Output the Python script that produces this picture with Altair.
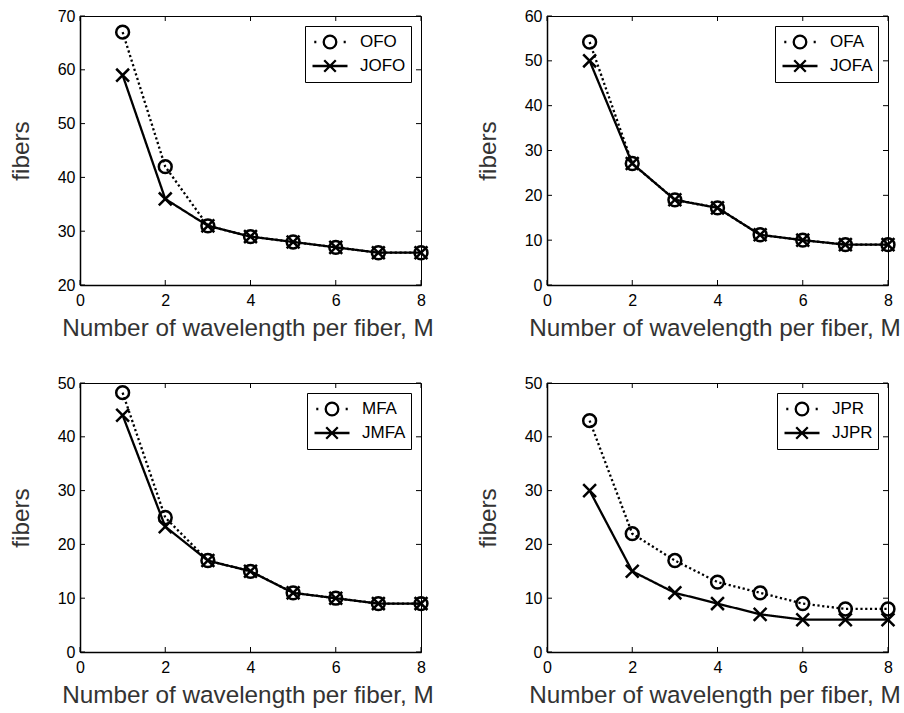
import altair as alt
import pandas as pd

# ---- data ----
M = [1, 2, 3, 4, 5, 6, 7, 8]
x_ticks = [0, 2, 4, 6, 8]

ofo = [67, 42, 31, 29, 28, 27, 26, 26]
jofo = [59, 36, 31, 29, 28, 27, 26, 26]
ofa = [54.2, 27.1, 19, 17.2, 11.2, 10, 9, 9]
jofa = [50, 27.1, 19, 17.2, 11.2, 10, 9, 9]
mfa = [48.2, 25, 17, 15, 11, 10, 9, 9]
jmfa = [44, 23.3, 17, 15, 11, 10, 9, 9]
jpr = [43, 22, 17, 13, 11, 9, 8, 8]
jjpr = [30, 15, 11, 9, 7, 6, 6, 6]

y_ticks_1 = [20, 30, 40, 50, 60, 70]
y_ticks_2 = [0, 10, 20, 30, 40, 50, 60]
y_ticks_3 = [0, 10, 20, 30, 40, 50]
y_ticks_4 = [0, 10, 20, 30, 40, 50]

X_TITLE = "Number of wavelength per fiber, M"
Y_TITLE = "fibers"

W, H = 341, 269
TICK = 5

X_PATH = "M-1,-1L1,1M-1,1L1,-1"
LEG_O = ("M-0.9,0h0.12M0.78,0h0.12"
         "M0.36,0A0.36,0.36 0 1,1 -0.36,0A0.36,0.36 0 1,1 0.36,0")
LEG_X = "M-1,0H1M-0.33,-0.33L0.33,0.33M-0.33,0.33L0.33,-0.33"


def panel(name_a, vals_a, name_b, vals_b, ydom, yticks):
    names = [name_a, name_b]
    df = pd.DataFrame({
        "M": M + M,
        "fibers": vals_a + vals_b,
        "series": [name_a] * len(M) + [name_b] * len(M),
    })
    xs = alt.Scale(domain=[0, 8], nice=False, zero=False)
    ys = alt.Scale(domain=ydom, nice=False, zero=False)
    xax = alt.Axis(values=x_ticks, title=X_TITLE, labelFlush=False,
                   labelPadding=7, titleY=50, titleX=W / 2 - 3,
                   titleBaseline="alphabetic")
    yax = alt.Axis(values=yticks, title=Y_TITLE, labelPadding=5,
                   titleX=-59, titleBaseline="middle", titleAngle=270)
    base = alt.Chart(df).encode(
        x=alt.X("M:Q", scale=xs, axis=xax),
        y=alt.Y("fibers:Q", scale=ys, axis=yax),
    )

    line = base.mark_line(color="black", strokeWidth=2.3, strokeCap="butt").encode(
        strokeDash=alt.StrokeDash("series:N",
                                  scale=alt.Scale(domain=names, range=[[2.2, 2.6], [1, 0]]),
                                  legend=None)
    )
    pts = base.mark_point(filled=False, color="black", strokeWidth=2.5, size=165, opacity=1).encode(
        shape=alt.Shape("series:N",
                        scale=alt.Scale(domain=names, range=["circle", X_PATH]),
                        legend=None)
    )
    leg = base.mark_point(filled=False, color="black", opacity=0).encode(
        shape=alt.Shape("series:N",
                        scale=alt.Scale(domain=names, range=[LEG_O, LEG_X]),
                        legend=alt.Legend(title=None, orient="top-right", offset=10,
                                          symbolSize=1225, symbolStrokeWidth=2.3,
                                          symbolStrokeColor="black",
                                          symbolFillColor="transparent",
                                          symbolOpacity=1, clipHeight=22,
                                          symbolOffset=1,
                                          labelOffset=11, labelFontSize=17,
                                          labelFont="Liberation Sans",
                                          labelColor="black",
                                          labelExpr="datum.label + '\u00a0\u00a0'",
                                          padding=5, strokeColor="black",
                                          fillColor="white", cornerRadius=0))
    )

    xt = pd.DataFrame({"t": x_ticks})
    yt = pd.DataFrame({"t": yticks})
    xb = alt.Chart(xt).mark_rule(color="black", strokeWidth=1).encode(
        x=alt.X("t:Q", scale=xs, axis=xax), y=alt.value(H), y2=alt.value(H - TICK))
    xtop = alt.Chart(xt).mark_rule(color="black", strokeWidth=1).encode(
        x=alt.X("t:Q", scale=xs, axis=xax), y=alt.value(0), y2=alt.value(TICK))
    yl = alt.Chart(yt).mark_rule(color="black", strokeWidth=1).encode(
        y=alt.Y("t:Q", scale=ys, axis=yax), x=alt.value(0), x2=alt.value(TICK))
    yr = alt.Chart(yt).mark_rule(color="black", strokeWidth=1).encode(
        y=alt.Y("t:Q", scale=ys, axis=yax), x=alt.value(W), x2=alt.value(W - TICK))

    return alt.layer(line, pts, leg, xb, xtop, yl, yr).resolve_scale(
        shape="independent"
    ).properties(width=W, height=H)


p1 = panel("OFO", ofo, "JOFO", jofo, [20, 70], y_ticks_1)
p2 = panel("OFA", ofa, "JOFA", jofa, [0, 60], y_ticks_2)
p3 = panel("MFA", mfa, "JMFA", jmfa, [0, 50], y_ticks_3)
p4 = panel("JPR", jpr, "JJPR", jjpr, [0, 50], y_ticks_4)

row1 = alt.hconcat(p1, p2, spacing=41).resolve_scale(shape="independent", strokeDash="independent")
row2 = alt.hconcat(p3, p4, spacing=41).resolve_scale(shape="independent", strokeDash="independent")

chart = alt.vconcat(row1, row2, spacing=33).resolve_scale(
    shape="independent", strokeDash="independent"
).properties(
    padding={"left": 8, "top": 7, "right": 0, "bottom": 0},
    background="white",
).configure_axis(
    labelFont="Liberation Sans", labelFontSize=16, labelColor="black",
    titleFont="Liberation Sans", titleFontSize=24.3, titleFontWeight="normal",
    titleColor="#333333", ticks=False, grid=False,
    domainColor="black", domainWidth=1.5,
).configure_view(stroke="black", strokeWidth=1)

chart.save("out.html", embed_options={"renderer": "svg", "actions": False})
